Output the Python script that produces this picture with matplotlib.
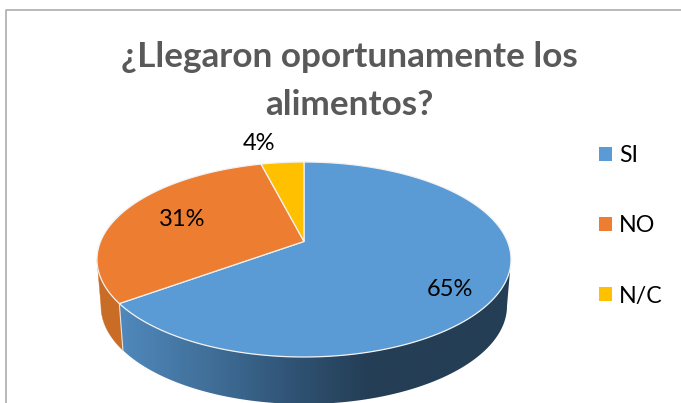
import numpy as np
import matplotlib
matplotlib.use('Agg')
import matplotlib.pyplot as plt
from matplotlib.patches import Polygon
from matplotlib.colors import LinearSegmentedColormap

labels = ['SI', 'NO', 'N/C']
values = [65, 31, 4]
pct_labels = ['65%', '31%', '4%']
colors = ['#5b9bd5', '#ed7d31', '#ffc000']
title = '¿Llegaron oportunamente los\nalimentos?'

W = 681; H = 403
cx = 304; cy = 259.5; rx = 207; ry = 97.5
rx_b = 203; ry_b = 98; cy_b = 306   # bottom rim
t = 0.185   # perspective, moves the pie centre back on the top face

# unit circle -> top ellipse, with the tilt; phi clockwise from 12 o'clock
def top_xy(phi):
    p = np.radians(phi)
    x = np.sin(p); y = np.cos(p)
    w = 1 + t*y
    return cx + rx*x*np.sqrt(1 - t**2)/w, cy - ry*(y + t)/w

def rim_theta(phi):
    x, y = top_xy(phi)
    return np.arctan2((x - cx)/rx, (cy - y)/ry)

def wall(th0, th1):
    th = np.linspace(th0, th1, 200)
    top = np.c_[cx + rx*np.sin(th), cy - ry*np.cos(th)]
    bot = np.c_[cx + rx_b*np.sin(th), cy_b - ry_b*np.cos(th)]
    return np.vstack([top, bot[::-1]])

fig = plt.figure(figsize=(W/100, H/100), dpi=100)
ax = fig.add_axes([0, 0, 1, 1])

edges = np.cumsum([0] + values)*3.6
seam = rim_theta(edges[1]) % (2*np.pi)

# blue side has a gradient, clipped to the wall shape
blue_side = LinearSegmentedColormap.from_list('side', [(0, '#5089bd'), (0.22, '#41709a'), (0.45, '#2f5273'),
                                                       (0.63, '#243e55'), (1, '#243e55')])
grad = np.linspace(0, 1, 256).reshape(1, -1)
im = ax.imshow(grad, cmap=blue_side, extent=(118, 515, 410, 250), aspect='auto', zorder=1)
blue_wall = Polygon(wall(np.pi/2, seam), fc='none', ec='none')
ax.add_patch(blue_wall)
im.set_clip_path(blue_wall)
ax.add_patch(Polygon(wall(seam, 1.5*np.pi), fc='#c96d26', ec='#c96d26', lw=0.3, zorder=1))

# seam between the two side colours
ax.plot([cx + rx*np.sin(seam), cx + rx_b*np.sin(seam)],
        [cy - ry*np.cos(seam), cy_b - ry_b*np.cos(seam)], color='#e4e4e4', lw=0.8, zorder=2)

# top face
for a, b, c in zip(edges[:-1], edges[1:], colors):
    phi = np.linspace(a, b, 300)
    x, y = top_xy(phi)
    ax.fill(np.r_[cx, x], np.r_[cy - ry*t, y], fc=c, ec='#f2f2f2', lw=0.9, zorder=3)

# chart frame
ax.plot([6, 6, W], [H, 10, 10], color='#a6a6a6', lw=1.1, clip_on=False, zorder=4)

ax.text(349, 81, title, ha='center', va='center', fontsize=25.3, fontweight='bold',
        family='Lato', color='#595959', linespacing=1.6)

pct_x = [450, 182, 259]
pct_y = [290, 220, 144]
for s, x, y in zip(pct_labels, pct_x, pct_y):
    ax.text(x, y, s, ha='center', va='center', fontsize=17, family='Lato', color='black', zorder=5)

leg_y = [154, 224, 294]
for s, c, y in zip(labels, colors, leg_y):
    ax.fill([599, 612, 612, 599], [y - 7, y - 7, y + 7, y + 7], color=c, lw=0)
    ax.text(619, y + 2, s, ha='left', va='center', fontsize=16.7, family='Lato', color='black')

ax.set_xlim(0, W)
ax.set_ylim(H, 0)
ax.axis('off')

fig.savefig('out.png', dpi=100)
